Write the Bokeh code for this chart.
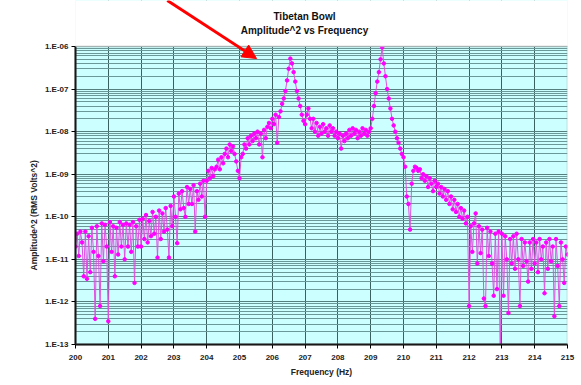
from bokeh.plotting import figure
from bokeh.models import (Title, FixedTicker, CustomJSTickFormatter, Arrow, NormalHead, Range1d,
                          BoxAnnotation, Label)
from bokeh.embed import file_html
from bokeh.resources import INLINE

# ---------------- data ----------------
freq_start = 200.0
freq_step = 0.05

amp_200 = [2.0e-11, 4.0e-11, 1.2e-11, 4.5e-11, 2.5e-11, 4.0e-12, 4.5e-11, 3.5e-12, 3.5e-11, 5.0e-12,
           5.5e-11, 1.5e-11, 4.0e-13, 6.0e-11, 1.2e-11, 8.0e-13, 7.0e-11, 9.0e-12, 6.5e-11, 2.0e-11]
amp_201 = [3.5e-13, 7.5e-11, 1.5e-11, 6.0e-11, 4.0e-12, 5.5e-11, 1.3e-11, 7.5e-11, 2.0e-11, 6.5e-11,
           1.0e-11, 7.0e-11, 2.0e-11, 6.5e-11, 1.5e-11, 7.5e-11, 2.8e-12, 6.0e-11, 2.0e-11, 8.5e-11]
amp_202 = [2.0e-11, 9.0e-11, 3.0e-11, 1.1e-10, 2.5e-11, 8.0e-11, 3.5e-11, 1.3e-10, 4.0e-11, 1.0e-10,
           1.1e-11, 1.4e-10, 3.0e-11, 1.2e-10, 4.5e-11, 1.6e-10, 5.0e-11, 1.1e-11, 1.8e-10, 6.0e-11]
amp_203 = [3.0e-10, 1.0e-10, 2.4e-11, 3.5e-10, 1.5e-10, 4.0e-10, 1.6e-10, 1.0e-10, 5.0e-10, 2.0e-10,
           4.5e-10, 2.0e-10, 5.5e-10, 4.5e-11, 4.0e-10, 2.5e-10, 6.0e-10, 3.0e-10, 7.0e-10, 1.0e-10]
amp_204 = [7.0e-10, 1.2e-9, 8.0e-10, 1.4e-9, 9.0e-10, 1.3e-9, 1.5e-9, 2.2e-9, 1.3e-9, 2.5e-9,
           1.8e-9, 3.0e-9, 4.0e-9, 2.5e-9, 5.0e-9, 3.5e-9, 4.5e-9, 3.0e-9, 2.0e-9, 1.2e-9]
amp_205 = [8.0e-10, 2.5e-9, 3.0e-9, 5.0e-9, 4.0e-9, 7.0e-9, 5.0e-9, 8.0e-9, 6.0e-9, 9.0e-9,
           7.0e-9, 1.0e-8, 5.0e-9, 9.0e-9, 2.5e-9, 1.1e-8, 7.0e-9, 1.3e-8, 1.6e-8, 1.2e-8]
amp_206 = [2.0e-8, 1.5e-8, 2.5e-8, 5.5e-9, 2.2e-8, 3.0e-8, 4.5e-8, 6.0e-8, 9.0e-8, 1.6e-7,
           3.0e-7, 5.2e-7, 4.0e-7, 2.5e-7, 1.5e-7, 9.0e-8, 6.0e-8, 4.0e-8, 2.5e-8, 1.8e-8]
amp_207 = [1.5e-8, 2.5e-8, 3.5e-8, 2.0e-8, 1.2e-8, 2.0e-8, 1.0e-8, 1.6e-8, 8.0e-9, 1.3e-8,
           9.0e-9, 1.5e-8, 1.0e-8, 1.2e-8, 8.0e-9, 1.4e-8, 1.0e-8, 1.2e-8, 8.0e-9, 1.0e-8]
amp_208 = [7.0e-9, 9.0e-9, 4.0e-9, 8.0e-9, 6.0e-9, 9.0e-9, 7.0e-9, 1.1e-8, 8.0e-9, 1.2e-8,
           9.0e-9, 1.1e-8, 7.0e-9, 1.0e-8, 8.0e-9, 1.2e-8, 9.0e-9, 1.1e-8, 8.0e-9, 1.0e-8]
amp_209 = [1.2e-8, 2.0e-8, 4.0e-8, 8.0e-8, 1.5e-7, 2.5e-7, 5.0e-7, 9.5e-7, 4.0e-7, 2.0e-7,
           1.0e-7, 6.0e-8, 3.5e-8, 2.0e-8, 1.4e-8, 1.0e-8, 7.0e-9, 5.5e-9, 4.0e-9, 3.0e-9]
amp_210 = [2.5e-9, 1.5e-9, 3.0e-10, 2.0e-10, 5.0e-11, 6.0e-10, 1.2e-9, 1.5e-9, 1.4e-9, 1.2e-9,
           1.3e-9, 8.0e-10, 1.0e-9, 7.0e-10, 9.0e-10, 5.0e-10, 8.0e-10, 6.0e-10, 4.0e-10, 7.0e-10]
amp_211 = [5.0e-10, 6.0e-10, 3.5e-10, 5.0e-10, 3.0e-10, 4.5e-10, 2.5e-10, 4.0e-10, 2.0e-10, 3.0e-10,
           1.5e-10, 2.5e-10, 1.3e-10, 2.0e-10, 1.0e-10, 1.6e-10, 9.0e-11, 1.4e-10, 7.0e-11, 1.0e-10]
amp_212 = [8.0e-13, 6.0e-11, 1.5e-11, 7.0e-11, 1.2e-10, 8.0e-12, 6.0e-11, 1.4e-11, 5.0e-11, 1.2e-12,
           8.0e-13, 5.5e-11, 1.2e-11, 4.5e-11, 8.0e-12, 1.4e-12, 4.0e-11, 2.0e-12, 4.5e-11, 5.0e-14]
amp_213 = [4.0e-11, 1.4e-12, 3.5e-11, 1.0e-11, 5.5e-13, 3.0e-11, 8.0e-12, 3.5e-11, 6.0e-12, 4.0e-11,
           1.0e-11, 8.0e-13, 3.0e-11, 7.0e-12, 2.5e-11, 9.0e-12, 3.0e-12, 2.5e-11, 6.0e-12, 3.0e-11]
amp_214 = [8.0e-12, 2.5e-11, 5.0e-12, 3.0e-11, 1.0e-11, 2.0e-11, 1.6e-12, 2.5e-11, 6.0e-12, 3.0e-11,
           9.0e-12, 2.0e-11, 4.6e-13, 3.0e-11, 7.0e-12, 8.0e-13, 2.5e-11, 1.0e-11, 2.8e-12, 2.0e-11]
amp_215 = [1.3e-11]

x_ticks = list(range(200, 216))
y_ticks = [1e-13, 1e-12, 1e-11, 1e-10, 1e-9, 1e-8, 1e-7, 1e-6]

title_text = "Tibetan Bowl"
subtitle_text = "Amplitude^2 vs Frequency"
x_label = "Frequency (Hz)"
y_label = "Amplitude^2 (RMS Volts^2)"

amplitude = (amp_200 + amp_201 + amp_202 + amp_203 + amp_204 + amp_205 + amp_206 + amp_207 +
             amp_208 + amp_209 + amp_210 + amp_211 + amp_212 + amp_213 + amp_214 + amp_215)
frequency = [round(freq_start + i * freq_step, 2) for i in range(len(amplitude))]

# ---------------- figure ----------------
FONT = "Liberation Sans"
Y_TOP = 1.2034e-5   # frame extends to canvas top so the arrow is not clipped

p = figure(width=581, height=385, output_backend="svg", toolbar_location=None,
           y_axis_type="log", x_range=Range1d(200, 215), y_range=Range1d(1e-13, Y_TOP),
           title=None,
           min_border_left=75, min_border_right=14, min_border_top=0, min_border_bottom=41)

p.background_fill_color = "#CCFFFF"
p.border_fill_color = "white"
p.outline_line_color = None

# axes
p.xaxis.ticker = FixedTicker(ticks=x_ticks)
minor = [k * d for d in y_ticks[:-1] for k in range(2, 10)]
p.yaxis.ticker = FixedTicker(ticks=y_ticks, minor_ticks=minor)
p.yaxis.bounds = (1e-13, 1e-6)
p.yaxis.formatter = CustomJSTickFormatter(code="""
    const e = Math.round(Math.log10(tick));
    const s = e < 0 ? "-" : "+";
    return "1.E" + s + String(Math.abs(e)).padStart(2, "0");
""")
for ax in (p.xaxis, p.yaxis):
    ax.axis_line_color = "black"
    ax.axis_line_width = 2
    ax.major_tick_line_color = "black"
    ax.major_tick_line_width = 1
    ax.major_tick_out = 4
    ax.major_tick_in = 0
    ax.minor_tick_line_color = None
    ax.major_label_text_font = FONT
    ax.major_label_text_font_size = "8px"
    ax.major_label_text_font_style = "bold"
    ax.major_label_text_color = "#222222"
    ax.axis_label_text_font = FONT
    ax.axis_label_text_font_size = "8.5px"
    ax.axis_label_text_font_style = "bold"
    ax.axis_label_text_color = "#222222"
p.xaxis.axis_label = x_label
p.xaxis.major_label_standoff = 6
p.xaxis.axis_label_standoff = 4
p.yaxis.major_label_standoff = 3

ytitle = Title(text=y_label, text_font=FONT, text_font_size="8.5px", text_font_style="bold",
               text_color="#222222", align="left", offset=74, standoff=6)
p.add_layout(ytitle, "left")

# grid
p.xgrid.grid_line_color = "#3a6060"
p.xgrid.grid_line_width = 1
p.ygrid.grid_line_color = "#557f7f"
p.ygrid.grid_line_width = 1
p.ygrid.minor_grid_line_color = "#6a9898"
p.ygrid.minor_grid_line_width = 1

# data
p.line(frequency, amplitude, line_color="#E050E0", line_width=1)
p.scatter(frequency, amplitude, marker="circle", size=3.5, fill_color="#FF00FF",
          line_color="#FF00FF")

# white area above the plot area (title zone) and plot-area border
p.add_layout(BoxAnnotation(bottom=1e-6, fill_color="white", fill_alpha=1.0,
                           line_color=None))
p.add_layout(BoxAnnotation(left=200, right=215, bottom=1e-13, top=1e-6, fill_color=None,
                           line_color="#999999", line_width=2))

# titles
for txt, yy in ((title_text, 5.06e-6), (subtitle_text, 2.38e-6)):
    p.add_layout(Label(x=206.98, y=yy, text=txt, text_font=FONT, text_font_size="10px",
                       text_font_style="bold", text_color="#111111",
                       text_align="center", text_baseline="middle"))

# red arrow annotation
p.add_layout(Arrow(end=NormalHead(size=14, fill_color="red", line_color="red"),
                   x_start=202.8, y_start=Y_TOP, x_end=205.52, y_end=5.2e-7,
                   line_color="red", line_width=3))

open("out.html", "w").write(file_html(p, INLINE))
